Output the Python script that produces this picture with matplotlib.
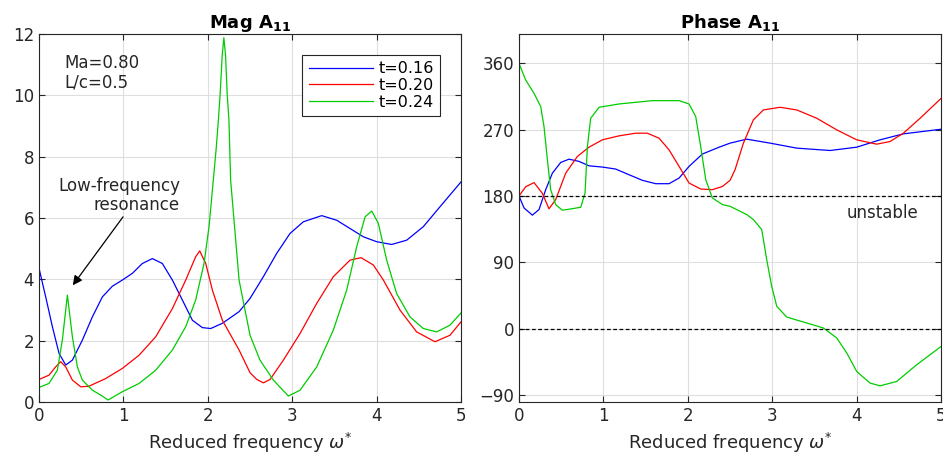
import matplotlib
matplotlib.use("Agg")
import matplotlib.pyplot as plt

# values
mag_x_016 = [0, 0.079, 0.158, 0.237, 0.316, 0.395, 0.513, 0.632, 0.75, 0.869, 0.987, 1.106, 1.224, 1.343, 1.461, 1.58, 1.698, 1.817, 1.935, 2.034, 2.172, 2.37, 2.5,
             2.658, 2.816, 2.974, 3.132, 3.349, 3.527, 3.685, 3.843, 4.0, 4.178, 4.356, 4.553, 4.751, 5.0]
mag_y_016 = [4.36, 3.43, 2.46, 1.59, 1.21, 1.37, 2.02, 2.78, 3.43, 3.78, 3.98, 4.2, 4.52, 4.68, 4.52, 3.98, 3.33, 2.67, 2.43, 2.40, 2.57, 2.95, 3.38,
             4.09, 4.85, 5.5, 5.88, 6.08, 5.93, 5.66, 5.39, 5.23, 5.14, 5.28, 5.72, 6.37, 7.18]

mag_x_020 = [0, 0.118, 0.197, 0.257, 0.316, 0.395, 0.494, 0.592, 0.79, 0.987, 1.185, 1.382, 1.58, 1.738, 1.856, 1.904, 1.975, 2.054, 2.172, 2.37, 2.5,
             2.58, 2.658, 2.737, 2.895, 3.093, 3.29, 3.487, 3.685, 3.815, 3.961, 4.08, 4.277, 4.474, 4.691, 4.869, 5.0]
mag_y_020 = [0.74, 0.88, 1.15, 1.32, 1.15, 0.72, 0.5, 0.52, 0.77, 1.1, 1.53, 2.13, 3.05, 3.98, 4.74, 4.93, 4.52, 3.65, 2.67, 1.7, 0.96,
             0.74, 0.63, 0.74, 1.37, 2.24, 3.22, 4.09, 4.63, 4.71, 4.47, 3.98, 3.0, 2.29, 1.97, 2.18, 2.62]

mag_x_024 = [0, 0.118, 0.217, 0.276, 0.336, 0.395, 0.454, 0.513, 0.632, 0.731, 0.818, 0.987, 1.185, 1.382, 1.58, 1.738, 1.856, 1.955, 2.014, 2.054,
             2.1, 2.125, 2.145, 2.17, 2.19, 2.21, 2.23, 2.25, 2.27, 2.37, 2.5,
             2.618, 2.776, 2.954, 3.093, 3.29, 3.487, 3.645, 3.764, 3.863, 3.942, 4.02, 4.119, 4.237, 4.395, 4.553, 4.711, 4.869, 5.0]
mag_y_024 = [0.48, 0.61, 1.04, 2.02, 3.49, 2.13, 1.15, 0.72, 0.39, 0.23, 0.07, 0.34, 0.61, 1.04, 1.7, 2.46, 3.33, 4.52, 5.72, 6.91,
             8.3, 9.2, 10.0, 11.3, 11.88, 11.3, 10.0, 9.2, 7.24, 3.98, 2.18,
             1.37, 0.72, 0.2, 0.39, 1.15, 2.35, 3.65, 5.07, 6.04, 6.23, 5.83, 4.63, 3.54, 2.78, 2.4, 2.29, 2.51, 2.91]

ph_x_016 = [0, 0.059, 0.158, 0.237, 0.316, 0.395, 0.494, 0.592, 0.711, 0.829, 0.987, 1.145, 1.303, 1.461, 1.619, 1.777, 1.896, 2.014, 2.172, 2.37, 2.5,
            2.697, 2.974, 3.29, 3.685, 4.0, 4.277, 4.553, 5.0]
ph_y_016 = [180, 163.8, 154, 161.6, 188.6, 211, 225.6, 230, 227, 221, 219.3, 216.6, 208.9, 201.3, 196.7, 196.7, 204.4, 220.2, 237, 246.3, 251.8,
            257.2, 251.8, 245, 241.8, 246.3, 256.3, 264.4, 270.7]

ph_x_020 = [0, 0.079, 0.178, 0.276, 0.355, 0.434, 0.553, 0.691, 0.829, 0.987, 1.185, 1.382, 1.52, 1.659, 1.777, 1.896, 2.014, 2.152, 2.29, 2.41, 2.5,
            2.559, 2.658, 2.776, 2.895, 3.093, 3.29, 3.527, 3.764, 4.0, 4.237, 4.395, 4.553, 4.751, 5.0]
ph_y_020 = [180, 192.6, 198.2, 183.7, 162.6, 175, 211, 233.7, 246.3, 256.3, 261.7, 265.3, 265.3, 258.5, 242.7, 220.2, 197.6, 189.5, 188.6, 193, 201.3,
            215.7, 251.8, 283.4, 296.9, 300.5, 296.9, 285.6, 269.8, 256.3, 250.4, 254, 265.3, 285.6, 312.6]

ph_x_024 = [0, 0.079, 0.178, 0.257, 0.296, 0.336, 0.375, 0.434, 0.513, 0.612, 0.731, 0.782, 0.81, 0.849, 0.948, 1.185, 1.58, 1.896, 2.014, 2.093, 2.152,
            2.212, 2.29, 2.41, 2.5, 2.697, 2.776, 2.875, 2.934, 2.993, 3.053, 3.171, 3.408, 3.606, 3.764, 3.883, 4.0, 4.158, 4.277, 4.474, 4.711, 5.0]
ph_y_024 = [360, 337.5, 319.4, 301.4, 274.3, 229.2, 188.6, 168.3, 160.7, 162.4, 164.7, 184.1, 247.2, 285.6, 300.5, 305, 309.5, 309.5, 305, 287.9, 247.2,
            202.2, 177.4, 168.3, 166, 154.8, 148, 134.4, 93.6, 57.4, 30.2, 15.6, 7.5, 0.7, -12.9, -33.3, -58.3, -74.1, -77.8, -71.9, -49.2, -24.3]

labels = ["t=0.16", "t=0.20", "t=0.24"]
colors = ["#0000ff", "#ff0000", "#00cc00"]

tick_col = "#262626"
plt.rcParams["font.family"] = "DejaVu Sans"
plt.rcParams["mathtext.fontset"] = "dejavusans"

fig = plt.figure(figsize=(9.43, 4.66), dpi=100)
ax1 = fig.add_axes([0.0414, 0.137, 0.4475, 0.790])
ax2 = fig.add_axes([0.5504, 0.137, 0.4476, 0.790])

mag = [(mag_x_016, mag_y_016), (mag_x_020, mag_y_020), (mag_x_024, mag_y_024)]
for (xs, ys), lab, c in zip(mag, labels, colors):
    ax1.plot(xs, ys, color=c, lw=0.9, label=lab)

phase = [(ph_x_016, ph_y_016), (ph_x_020, ph_y_020), (ph_x_024, ph_y_024)]
for (xs, ys), c in zip(phase, colors):
    ax2.plot(xs, ys, color=c, lw=0.9)
ax2.axhline(180, color="black", ls="--", lw=0.9, dashes=(3, 2))
ax2.axhline(0, color="black", ls="--", lw=0.9, dashes=(3, 2))

ax1.set_xlim(0, 5)
ax1.set_ylim(0, 12)
ax1.set_yticks([0, 2, 4, 6, 8, 10, 12])
ax2.set_xlim(0, 5)
ax2.set_ylim(-100, 400)
ax2.set_yticks([-90, 0, 90, 180, 270, 360])

for ax in (ax1, ax2):
    ax.set_xticks([0, 1, 2, 3, 4, 5])
    ax.grid(True, color="#dedede", lw=0.8)
    ax.set_axisbelow(True)
    ax.tick_params(direction="in", length=4, labelsize=12, colors=tick_col, top=True, right=True)
    for s in ax.spines.values():
        s.set_color(tick_col)
        s.set_linewidth(0.8)
    ax.set_xlabel(r"Reduced frequency $\omega^{*}$", fontsize=13, color=tick_col)

ax1.set_title(r"Mag A$_{\mathbf{11}}$", fontsize=13, fontweight="bold", pad=4)
ax2.set_title(r"Phase A$_{\mathbf{11}}$", fontsize=13, fontweight="bold", pad=4)

leg = ax1.legend(loc="upper right", bbox_to_anchor=(0.95, 0.943), borderaxespad=0,
                 fontsize=11.5, handlelength=4.0, handletextpad=0.35, fancybox=False,
                 edgecolor=tick_col, framealpha=1, labelspacing=0.1, borderpad=0.4)
leg.get_frame().set_linewidth(0.8)

ax1.text(0.3, 11.35, "Ma=0.80\nL/c=0.5", fontsize=12, color=tick_col, va="top", linespacing=1.1)
ax1.annotate("Low-frequency\nresonance", xy=(0.40, 3.81), xytext=(1.67, 7.35),
             fontsize=12, color=tick_col, ha="right", va="top", linespacing=1.1,
             arrowprops=dict(arrowstyle="-|>", color="black", lw=0.9, mutation_scale=14,
                             shrinkA=0, shrinkB=0, relpos=(0.55, 0)))
ax2.text(3.88, 157, "unstable", fontsize=12, color=tick_col, va="center")

fig.savefig("out.png", dpi=100)
